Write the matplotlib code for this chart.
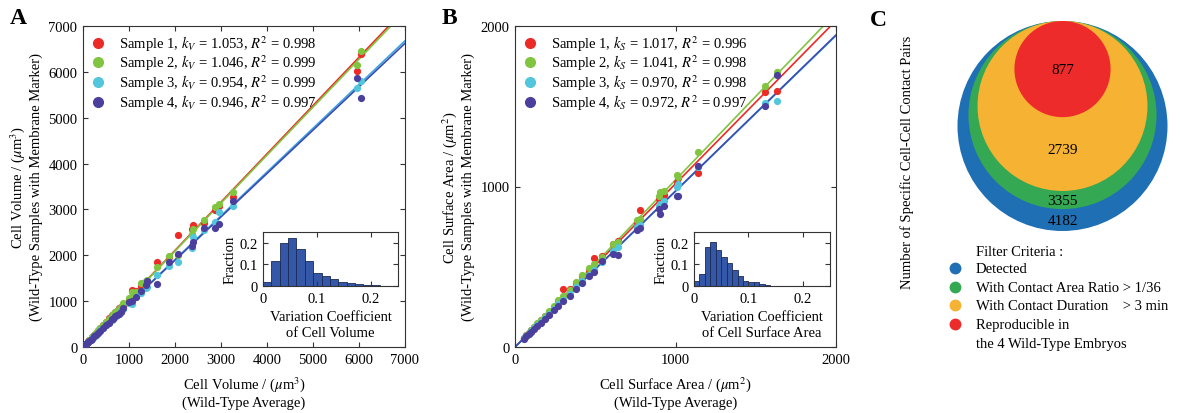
import numpy as np
import matplotlib.pyplot as plt
from matplotlib.patches import Circle
from matplotlib.lines import Line2D

plt.rcParams['font.family'] = ['Liberation Serif', 'DejaVu Serif']
plt.rcParams['mathtext.fontset'] = 'stix'
plt.rcParams['font.size'] = 10.5

# ---------------- data ----------------
# Panel A: cell volume, wild-type average vs each sample
vol_avg = [6040, 5960, 3260, 2950, 2880, 2640, 2390, 2380, 2070, 1860, 1600, 1400, 1380,
           1250, 1150, 1060, 1000, 880, 820, 780, 730, 700, 660, 620, 560, 500, 440, 380,
           330, 280, 240, 200, 170, 140, 110, 90, 70, 50, 35]
vol_s1 = [6390, 6020, 3280, 3080, 2980, 2700, 2660, 2580, 2440, 1960, 1850, 1450, 1420,
          1330, 1230, 1240, 1050, 920, 870, 860, 780, 760, 700, 690, 640, 540, 480, 420,
          350, 300, 260, 215, 180, 150, 120, 95, 75, 53, 37]
vol_s2 = [6460, 6160, 3370, 3120, 3060, 2760, 2580, 2460, 2000, 1990, 1740, 1470, 1440,
          1390, 1210, 1200, 1060, 950, 880, 830, 790, 770, 720, 680, 610, 540, 470, 410,
          360, 300, 255, 210, 180, 150, 118, 96, 74, 52, 37]
vol_s3 = [5800, 5640, 3080, 2940, 2720, 2560, 2400, 2150, 1860, 1760, 1580, 1300, 1280,
          1180, 1090, 930, 960, 830, 780, 730, 700, 650, 640, 580, 520, 470, 410, 360,
          310, 260, 225, 190, 160, 130, 105, 85, 66, 47, 33]
vol_s4 = [5420, 5870, 3180, 2680, 2590, 2590, 2300, 2200, 2030, 1850, 1370, 1440, 1350,
          1220, 1080, 1000, 980, 860, 760, 720, 690, 680, 620, 600, 530, 480, 420, 350,
          300, 260, 230, 185, 160, 135, 100, 82, 65, 48, 33]
k_vol = [1.053, 1.046, 0.954, 0.946]
r2_vol = [0.998, 0.999, 0.999, 0.997]

# Panel B: cell surface area
area_avg = [1635, 1560, 1140, 1016, 1010, 930, 905, 900, 780, 760, 640, 610, 540, 490,
            460, 420, 380, 340, 300, 270, 240, 210, 185, 160, 140, 120, 100, 85, 70, 55]
area_s1 = [1595, 1590, 1084, 1050, 1030, 950, 941, 920, 853, 780, 660, 640, 570, 555,
           480, 440, 400, 360, 361, 285, 250, 220, 192, 166, 145, 124, 103, 88, 72, 57]
area_s2 = [1713, 1626, 1215, 1059, 1070, 970, 966, 940, 800, 791, 654, 640, 560, 520,
           490, 449, 405, 355, 320, 290, 255, 222, 195, 170, 148, 127, 105, 89, 73, 58]
area_s3 = [1533, 1522, 1120, 1016, 1000, 910, 891, 880, 760, 748, 622, 600, 530, 480,
           450, 410, 375, 330, 295, 265, 235, 205, 182, 157, 137, 118, 98, 83, 68, 54]
area_s4 = [1695, 1502, 1128, 941, 940, 880, 829, 860, 740, 730, 573, 580, 536, 470,
           440, 400, 360, 320, 285, 255, 228, 198, 175, 150, 132, 113, 95, 80, 66, 52]
k_area = [1.017, 1.041, 0.970, 0.972]
r2_area = [0.996, 0.998, 0.998, 0.997]

# insets: histograms of variation coefficient
cv_vol_edges = [0, 0.0155, 0.031, 0.0465, 0.062, 0.0775, 0.093, 0.1085, 0.124, 0.1395,
                0.155, 0.1705, 0.186, 0.2015, 0.217]
cv_vol_frac = [0.02, 0.115, 0.197, 0.222, 0.173, 0.115, 0.058, 0.045, 0.032, 0.02,
               0.013, 0.01, 0.005, 0.003]
cv_area_edges = [0, 0.01, 0.02, 0.03, 0.04, 0.05, 0.06, 0.07, 0.08, 0.09, 0.10, 0.11,
                 0.12, 0.13, 0.14]
cv_area_frac = [0.022, 0.055, 0.18, 0.205, 0.165, 0.135, 0.105, 0.075, 0.045, 0.025,
                0.02, 0.02, 0.007, 0.004]

# Panel C: nested filter counts
filter_title = 'Filter Criteria :'
filter_labels = ['Detected', 'With Contact Area Ratio > 1/36',
                 'With Contact Duration    > 3 min', 'Reproducible in\nthe 4 Wild-Type Embryos']
filter_counts = [4182, 3355, 2739, 877]

# ---------------- styles ----------------
dot_colors = ['#ec2a26', '#80c440', '#52c6dc', '#4b3f9e']
line_colors = ['#ec2a26', '#80c440', '#3ea6e0', '#3b4db3']
venn_colors = ['#1f6fb4', '#34a853', '#f5b233', '#ee2b2b']
frame = '#333333'

fig = plt.figure(figsize=(11.8, 4.14), dpi=100)
W, H = 1180, 414


def rect(x0, y0, x1, y1):
    return [x0 / W, 1 - y1 / H, (x1 - x0) / W, (y1 - y0) / H]


def style_axes(ax):
    for s in ax.spines.values():
        s.set_color(frame)
        s.set_linewidth(0.8)
    ax.tick_params(direction='in', top=True, right=True, length=3.5, width=0.8,
                   color=frame, labelsize=10.5, pad=4)


def scatter_panel(ax, xs, ys, ks, r2s, sym, lim, ticks):
    for i in range(4):
        ax.scatter(xs, ys[i], s=27, color=dot_colors[i], zorder=3, linewidths=0)
    xx = np.array([0, lim])
    for i in range(4):
        ax.plot(xx, ks[i] * xx, color=line_colors[i], lw=1.2, zorder=2)
    handles = [Line2D([], [], marker='o', ls='', color=dot_colors[i], markersize=7)
               for i in range(4)]
    labels = [rf"Sample {i + 1}, $k_{sym}$ = {ks[i]:.3f}, $R^2$ = {r2s[i]:.3f}"
              for i in range(4)]
    ax.legend(handles, labels, loc='upper left', frameon=False, fontsize=10.5,
              labelspacing=0.0, handlelength=1.0, handletextpad=1.0,
              borderaxespad=0.1, borderpad=0.4, bbox_to_anchor=(0.0, 1.0))
    ax.set_xlim(0, lim)
    ax.set_ylim(0, lim)
    ax.set_xticks(ticks)
    ax.set_yticks(ticks)
    style_axes(ax)


def hist_inset(ax, edges, frac, label):
    ax.bar(edges[:-1], frac, width=np.diff(edges), align='edge', color='#3457a8',
           edgecolor='#1c2a55', linewidth=0.6)
    ax.set_xlim(0, 0.25)
    ax.set_ylim(0, 0.25)
    ax.set_xticks([0, 0.1, 0.2])
    ax.set_xticklabels(['0', '0.1', '0.2'])
    ax.set_yticks([0, 0.1, 0.2])
    ax.set_yticklabels(['0', '0.1', '0.2'])
    ax.set_ylabel('Fraction', labelpad=2)
    ax.set_xlabel(label, labelpad=4, linespacing=1.3)
    style_axes(ax)
    ax.tick_params(pad=4)


# Panel A
axA = fig.add_axes(rect(83, 27, 405, 348))
scatter_panel(axA, vol_avg, [vol_s1, vol_s2, vol_s3, vol_s4], k_vol, r2_vol, 'V', 7000,
              np.arange(0, 7001, 1000))
axA.set_xlabel("Cell Volume / ($\\mu$m$^3$)\n(Wild-Type Average)", linespacing=1.3,
               labelpad=6)
axA.set_ylabel("Cell Volume / ($\\mu$m$^3$)\n(Wild-Type Samples with Membrane Marker)",
               linespacing=1.25, labelpad=4)
insA = fig.add_axes(rect(263, 233, 398, 287))
hist_inset(insA, cv_vol_edges, cv_vol_frac, 'Variation Coefficient\nof Cell Volume')

# Panel B
axB = fig.add_axes(rect(515, 27, 836, 348))
scatter_panel(axB, area_avg, [area_s1, area_s2, area_s3, area_s4], k_area, r2_area, 'S',
              2000, [0, 1000, 2000])
axB.set_xlabel("Cell Surface Area / ($\\mu$m$^2$)\n(Wild-Type Average)", linespacing=1.3,
               labelpad=6)
axB.set_ylabel("Cell Surface Area / ($\\mu$m$^2$)\n(Wild-Type Samples with Membrane Marker)",
               linespacing=1.25, labelpad=4)
insB = fig.add_axes(rect(694, 233, 830, 287))
hist_inset(insB, cv_area_edges, cv_area_frac, 'Variation Coefficient\nof Cell Surface Area')

# Panel C: nested circles, radius ~ sqrt(count), all tangent at top
axC = fig.add_axes(rect(950, 15, 1175, 240))
radii = [np.sqrt(c) for c in filter_counts]
for r, c in zip(radii, venn_colors):
    axC.add_patch(Circle((0, -r), r, color=c, lw=0))
label_y = [-(2 * radii[0] + 2 * radii[1]) / 2, -(2 * radii[1] + 2 * radii[2]) / 2,
           -(2 * radii[2] + 2 * radii[3]) / 2 + 3, -radii[3]]
for n, y in zip(filter_counts, label_y):
    axC.text(0, y, str(n), ha='center', va='center', fontsize=11)
scale = 105 / radii[0]
axC.set_xlim(-112.5 / scale, 112.5 / scale)
axC.set_ylim(-218 / scale, 7 / scale)
axC.set_aspect('equal')
axC.axis('off')

fig.text(907 / W, 1 - 162 / H, 'Number of Specific Cell-Cell Contact Pairs', rotation=90,
         ha='center', va='center', fontsize=10.5)

# legend for panel C, drawn by hand so title and text align as in the figure
axL = fig.add_axes([0, 0, 1, 1], facecolor='none')
axL.set_xlim(0, W)
axL.set_ylim(H, 0)
axL.axis('off')
axL.text(976, 256, filter_title, ha='left', va='baseline', fontsize=10.5)
row_y = [269, 288, 306, 325]
for y, lab, c in zip(row_y, filter_labels, venn_colors):
    axL.plot([955], [y], 'o', color=c, markersize=7.5)
    for j, line in enumerate(lab.split('\n')):
        axL.text(976, y + 4 + 19 * j, line, ha='left', va='baseline', fontsize=10.5)

# panel letters
for x, y, s in [(18, 18, 'A'), (449, 18, 'B'), (878, 20, 'C')]:
    axL.text(x, y, s, fontsize=17, fontweight='bold', ha='center', va='center')

fig.savefig('out.png', dpi=100)
